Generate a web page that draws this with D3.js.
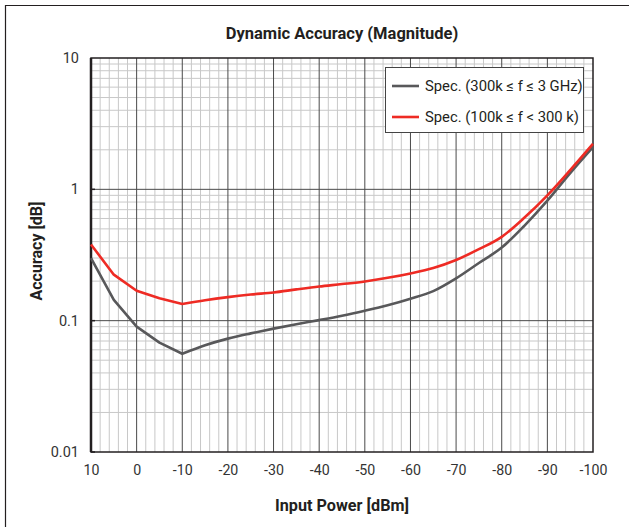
<!DOCTYPE html>
<html><head><meta charset="utf-8">
<script src="https://cdn.jsdelivr.net/npm/d3@7"></script>
<style>
body{margin:0;background:#fff;}
svg text{font-family:Roboto,"Liberation Sans",sans-serif;fill:#231f20;}
</style></head><body>
<svg id="c" width="629" height="527"></svg>
<script>
const inputPower = [10,5,0,-5,-10,-15,-20,-25,-30,-35,-40,-45,-50,-55,-60,-65,-70,-75,-80,-85,-90,-95,-100];
const specWide = [0.30,0.144,0.090,0.068,0.056,0.065,0.073,0.080,0.087,0.094,0.101,0.109,0.119,0.131,0.147,0.168,0.21,0.275,0.36,0.53,0.82,1.33,2.1];
const specLow  = [0.38,0.224,0.169,0.148,0.134,0.143,0.151,0.158,0.164,0.173,0.182,0.19,0.199,0.212,0.229,0.252,0.29,0.35,0.435,0.61,0.9,1.4,2.22];
const xTicks = [10,0,-10,-20,-30,-40,-50,-60,-70,-80,-90,-100];
const yTicks = [0.01,0.1,1,10];
const yTickLabels = ["0.01","0.1","1","10"];
const seriesNames = ["Spec. (300k \u2264 f \u2264 3 GHz)","Spec. (100k \u2264 f < 300 k)"];
const seriesColors = ["#58585a","#ee2b24"];

const svg = d3.select("#c");
const L=91,R=593,T=58,B=452;
const x = d3.scaleLinear().domain([10,-100]).range([L,R]);
const y = d3.scaleLog().domain([0.01,10]).range([B,T]);

svg.append("path").attr("d","M5.5,527 V5.5 H629").attr("fill","none").attr("stroke","#231f20").attr("stroke-width",1.2);

const g = svg.append("g");
const minorX = d3.range(10,-100.1,-2).filter(v=>v%10!==0);
g.selectAll(".mx").data(minorX).enter().append("line")
 .attr("x1",d=>x(d)).attr("x2",d=>x(d)).attr("y1",T).attr("y2",B)
 .attr("stroke","#c8c8c8").attr("stroke-width",1);
const minorY=[];
[0.01,0.1,1].forEach(dec=>{for(let k=2;k<=9;k++)minorY.push(dec*k);});
g.selectAll(".my").data(minorY).enter().append("line")
 .attr("y1",d=>y(d)).attr("y2",d=>y(d)).attr("x1",L).attr("x2",R)
 .attr("stroke","#c8c8c8").attr("stroke-width",1);
g.selectAll(".Mx").data(xTicks.slice(1,-1)).enter().append("line")
 .attr("x1",d=>x(d)).attr("x2",d=>x(d)).attr("y1",T).attr("y2",B)
 .attr("stroke","#4a4a4a").attr("stroke-width",1);
g.selectAll(".My").data([0.1,1]).enter().append("line")
 .attr("y1",d=>y(d)).attr("y2",d=>y(d)).attr("x1",L).attr("x2",R)
 .attr("stroke","#4a4a4a").attr("stroke-width",1);
g.append("rect").attr("x",L).attr("y",T).attr("width",R-L).attr("height",B-T)
 .attr("fill","none").attr("stroke","#231f20").attr("stroke-width",1.5);
g.append("line").attr("x1",L).attr("x2",L).attr("y1",T).attr("y2",B).attr("stroke","#231f20").attr("stroke-width",2.5);

const yAxis = d3.axisLeft(y).tickValues(yTicks).tickFormat((d,i)=>yTickLabels[i]).tickSize(0).tickPadding(12);
const ya = svg.append("g").attr("transform",`translate(${L},0)`).call(yAxis);
ya.select(".domain").remove();
ya.selectAll("text").attr("font-size",14.5).style("fill","#333").style("font-family","Roboto");
svg.selectAll(".yt").data([0.01,0.1,1]).enter().append("line")
 .attr("x1",L).attr("x2",L+4).attr("y1",d=>y(d)).attr("y2",d=>y(d)).attr("stroke","#231f20").attr("stroke-width",1.5);

const xAxis = d3.axisBottom(x).tickValues(xTicks).tickFormat(d=>String(d)).tickSize(0).tickPadding(13);
const xa = svg.append("g").attr("transform",`translate(0,${B})`).call(xAxis);
xa.select(".domain").remove();
xa.selectAll("text").attr("font-size",14.2).style("fill","#333").style("font-family","Roboto");

svg.append("text").attr("x",342).attr("y",39).attr("text-anchor","middle").attr("font-size",16.5).attr("font-weight","bold").text("Dynamic Accuracy (Magnitude)");
svg.append("text").attr("x",342).attr("y",511).attr("text-anchor","middle").attr("font-size",16.2).attr("font-weight","bold").text("Input Power [dBm]");
svg.append("text").attr("transform","translate(42,251) rotate(-90)").attr("text-anchor","middle").attr("font-size",16).attr("font-weight","bold").text("Accuracy [dB]");

const lineLin = d3.line().x(d=>x(d[0])).y(d=>y(d[1]));
const lineSm = d3.line().x(d=>x(d[0])).y(d=>y(d[1])).curve(d3.curveMonotoneX);
[specWide,specLow].forEach((s,i)=>{
  const pts = inputPower.map((p,j)=>[p,s[j]]);
  const a = lineLin(pts.slice(0,5));
  const b = lineSm(pts.slice(4)).replace(/^M/,"L");
  svg.append("path").attr("d",a+b).attr("fill","none").attr("stroke",seriesColors[i]).attr("stroke-width",2.6).attr("stroke-linejoin","round");
});

const lg = svg.append("g");
lg.append("rect").attr("x",385.5).attr("y",67.5).attr("width",198).attr("height",65).attr("fill","#fff").attr("stroke","#444").attr("stroke-width",1);
seriesNames.forEach((n,i)=>{
  const yy = 86 + i*31;
  lg.append("line").attr("x1",392).attr("x2",419).attr("y1",yy).attr("y2",yy).attr("stroke",seriesColors[i]).attr("stroke-width",2.6);
  lg.append("text").attr("x",425).attr("y",yy+5).attr("font-size",14.8).text(n);
});
</script>
</body></html>
